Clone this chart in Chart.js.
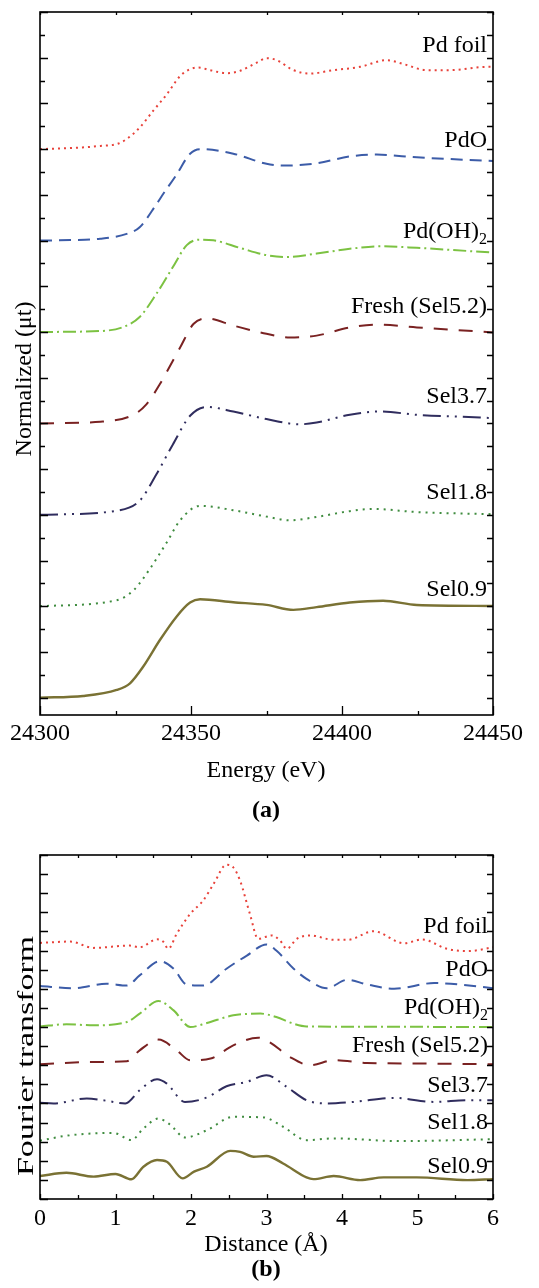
<!DOCTYPE html>
<html><head><meta charset="utf-8">
<script src="https://cdn.jsdelivr.net/npm/chart.js@4"></script>
<style>
html,body{margin:0;padding:0;background:#fff;}
.box{position:absolute;left:0;width:539px;}
</style></head><body>
<div style="position:relative;width:539px;height:1288px;">
<div class="box" style="top:0;height:840px"><canvas id="c1" width="539" height="840"></canvas></div>
<div class="box" style="top:840px;height:448px"><canvas id="c2" width="539" height="448"></canvas></div>
</div>
<script>
// ---------- shared series info ----------
const seriesNames = ['Pd foil','PdO','Pd(OH)2','Fresh (Sel5.2)','Sel3.7','Sel1.8','Sel0.9'];
const seriesColors = ['#e8423a','#3c5ca8','#7cc242','#7a2222','#302d5e','#3f8c3f','#7a7234'];
const seriesDashes = [[2,4],[12,7],[13,4,2,4],[14,11],[18,6,2,6,2,6],[2,5],[]];
const seriesWidths = [2,2,2,2,2,2,2.4];

// ---------- (a) XANES: energy (eV) / normalized mu, stacked with offsets ----------
const xanesOffsets = [6,5,4,3,2,1,0];
const foilE  = [24300,24314,24320,24325.4,24328.7,24333,24337.5,24342,24346.4,24349.7,24352.4,24356.3,24361.8,24366.2,24371.8,24375.1,24378.4,24383.9,24389.4,24397.1,24406,24414.8,24420.4,24428,24435.8,24448,24450];
const foilMu = [0,0.018,0.035,0.055,0.11,0.236,0.42,0.60,0.80,0.875,0.893,0.864,0.83,0.856,0.947,0.995,0.973,0.864,0.827,0.864,0.90,0.973,0.93,0.864,0.864,0.90,0.90];
const pdoE  = [24300,24310,24319.9,24328.7,24333,24338.6,24341,24345,24349.7,24353,24364,24375,24380.5,24391.6,24402.6,24411.5,24424.8,24450];
const pdoMu = [0,0.005,0.02,0.073,0.146,0.40,0.52,0.71,0.95,1.0,0.95,0.84,0.82,0.845,0.92,0.94,0.91,0.87];
const pdohE  = [24300,24319.9,24327.6,24333,24338.6,24344,24348.6,24353,24357.4,24366.2,24375,24381.7,24391.6,24402.6,24412.6,24424.8,24450];
const pdohMu = [0,0.01,0.055,0.164,0.42,0.71,0.95,1.01,1.003,0.92,0.84,0.82,0.857,0.91,0.937,0.92,0.868];
const freshE  = [24300,24320,24331,24335.3,24339.7,24344,24346.4,24350.8,24355.2,24364,24375,24382.8,24391.6,24402.6,24411.5,24424.8,24450];
const freshMu = [0,0.018,0.095,0.21,0.43,0.686,0.83,1.087,1.148,1.07,0.98,0.94,0.96,1.05,1.08,1.05,0.995];
const s37E  = [24300,24325.4,24333,24338.6,24344,24349.7,24355.2,24364,24375,24386,24391.6,24402.6,24412.6,24424.8,24445.7,24450];
const s37Mu = [0,0.044,0.153,0.445,0.77,1.083,1.18,1.13,1.047,0.99,1.01,1.094,1.13,1.094,1.064,1.057];
const s18E  = [24300,24325.4,24331,24336.4,24342,24346.4,24353,24364,24375,24382.8,24391.6,24402.6,24410.3,24424.8,24450];
const s18Mu = [0,0.066,0.175,0.41,0.70,0.94,1.098,1.05,0.98,0.94,0.977,1.04,1.064,1.03,1.006];
const s09E  = [24300,24314.3,24325.4,24329.8,24334.2,24339.7,24345.2,24349.7,24353,24364,24375,24383.9,24391.6,24402.6,24413.6,24424.8,24450];
const s09Mu = [0,0.018,0.084,0.157,0.34,0.63,0.886,1.04,1.076,1.043,1.014,0.96,0.99,1.04,1.06,1.014,1.003];
const energyTicks = [24300,24350,24400,24450];

// ---------- (b) Fourier transform: distance (A) / magnitude (stacked, as read) ----------
const foilR  = [0,0.4,0.71,1.19,1.32,1.55,1.63,1.70,1.81,1.99,2.16,2.30,2.47,2.56,2.65,2.78,2.89,3.07,3.18,3.27,3.40,3.58,3.89,4.07,4.42,4.82,5.06,5.39,5.67,6];
const foilFT = [13.40,13.47,13.14,13.26,13.17,13.59,13.47,13.09,13.87,14.92,15.61,16.49,17.49,17.35,16.66,14.92,13.61,13.79,13.52,13.09,13.61,13.79,13.56,13.56,14.01,13.38,13.58,13.09,12.97,13.17];
const pdoR  = [0,0.44,0.88,1.15,1.32,1.59,1.77,1.94,2.16,2.47,2.74,3.00,3.13,3.36,3.53,3.80,4.07,4.33,4.69,5.22,5.44,6];
const pdoFT = [11.14,11.03,11.26,11.17,11.70,12.44,12.05,11.23,11.17,12.05,12.74,13.32,13.0,12.05,11.52,11.03,11.47,11.23,11.00,11.30,11.26,11.03];
const pdohR  = [0,0.35,0.71,1.15,1.32,1.57,1.77,1.99,2.21,2.56,2.92,3.13,3.36,3.53,4.5,6];
const pdohFT = [9.03,9.14,9.09,9.26,9.70,10.36,9.87,9.0,9.21,9.61,9.70,9.52,9.17,9.03,9.01,9.0];
const freshR  = [0,0.71,1.15,1.32,1.57,1.81,1.99,2.26,2.56,2.89,3.04,3.31,3.58,3.89,4.33,4.99,6];
const freshFT = [7.05,7.17,7.21,7.78,8.34,7.78,7.26,7.35,8.04,8.44,8.21,7.43,7.0,7.26,7.12,7.09,7.05];
const s37R  = [0,0.18,0.62,0.88,1.13,1.32,1.55,1.68,1.92,2.21,2.47,2.74,3.00,3.27,3.53,3.78,4.15,4.69,5.22,5.66,6];
const s37FT = [5.03,5.0,5.26,5.14,5.0,5.69,6.27,6.04,5.08,5.31,5.90,6.13,6.48,5.86,5.17,5.0,5.08,5.29,5.08,5.17,5.17];
const s18R  = [0,0.35,0.97,1.21,1.37,1.57,1.72,1.92,2.21,2.56,2.96,3.22,3.53,3.89,4.77,6];
const s18FT = [3.05,3.31,3.46,3.08,3.69,4.21,3.9,3.22,3.60,4.30,4.27,3.78,3.08,3.17,3.03,3.13];
const s09R  = [0,0.35,0.71,1.0,1.21,1.37,1.55,1.68,1.89,2.04,2.21,2.52,2.65,2.83,3.00,3.22,3.53,3.62,3.89,4.24,4.55,4.99,5.66,6];
const s09FT = [1.20,1.37,1.17,1.31,1.03,1.69,2.04,1.95,1.08,1.43,1.69,2.52,2.47,2.21,2.25,1.86,1.13,1.04,1.20,0.99,1.13,1.13,0.99,1.04];
const distanceTicks = [0,1,2,3,4,5,6];

// ---------- helpers ----------
const FONT = '"Liberation Serif","Times New Roman",serif';
function pts(xs, ys, off){ return xs.map((v,i)=>({x:v, y:ys[i] + (off||0)})); }
function mkDatasets(list){
  return list.map((d,i)=>({
    label: seriesNames[i], data: d,
    borderColor: seriesColors[i], borderWidth: seriesWidths[i], borderDash: seriesDashes[i],
    borderCapStyle: 'butt', pointRadius: 0, fill: false, cubicInterpolationMode: 'monotone'
  }));
}
function near(v, step){ const r = v/step; return Math.abs(r - Math.round(r)) < 1e-6; }

function drawSeriesLabel(ctx, text, right, base){
  ctx.font = '24px ' + FONT;
  ctx.fillStyle = '#000';
  ctx.textBaseline = 'alphabetic';
  if (text === 'Pd(OH)2'){
    const main = 'Pd(OH)';
    ctx.font = '16px ' + FONT;
    const wSub = ctx.measureText('2').width;
    ctx.textAlign = 'right';
    ctx.fillText('2', right, base + 6);
    ctx.font = '24px ' + FONT;
    ctx.fillText(main, right - wSub, base);
  } else {
    ctx.textAlign = 'right';
    ctx.fillText(text, right, base);
  }
}

function makePlugin(cfg){
  return {
    id: 'decor',
    afterDatasetsDraw(chart){
      const ctx = chart.ctx, a = chart.chartArea, xs = chart.scales.x, ys = chart.scales.y;
      ctx.save();
      ctx.strokeStyle = '#000'; ctx.lineWidth = 1.6;
      ctx.strokeRect(a.left, a.top, a.right - a.left, a.bottom - a.top);
      ctx.lineWidth = 1.3;
      ctx.beginPath();
      // x ticks (inward)
      for (let v = cfg.xMin; v <= cfg.xMax + 1e-9; v += cfg.xMinor){
        const px = Math.round(xs.getPixelForValue(v)) + 0.5;
        const major = near(v - cfg.xMin, cfg.xMajor);
        const lb = major ? cfg.xBotMajor : cfg.xBotMinor;
        ctx.moveTo(px, a.bottom); ctx.lineTo(px, a.bottom - lb);
        ctx.moveTo(px, a.top); ctx.lineTo(px, a.top + cfg.xTop);
      }
      // y ticks (inward)
      for (let v = cfg.yTick0; v <= cfg.yMax + 1e-9; v += cfg.yMinor){
        const py = Math.round(ys.getPixelForValue(v)) + 0.5;
        const major = near(v - cfg.yTick0, cfg.yMajor);
        const ll = major ? cfg.yLeftMajor : cfg.yLeftMinor;
        ctx.moveTo(a.left, py); ctx.lineTo(a.left + ll, py);
        ctx.moveTo(a.right, py); ctx.lineTo(a.right - cfg.yRight, py);
      }
      ctx.stroke();
      // tick labels
      ctx.fillStyle = '#000';
      ctx.font = '24px ' + FONT;
      ctx.textBaseline = 'alphabetic';
      ctx.textAlign = 'center';
      cfg.xLabels.forEach(v => ctx.fillText(String(v), xs.getPixelForValue(v), cfg.xLabelBase));
      // x title
      ctx.fillText(cfg.xTitle, cfg.xTitleX, cfg.xTitleBase);
      // panel label
      ctx.font = 'bold 24px ' + FONT;
      ctx.fillText(cfg.panel, cfg.xTitleX, cfg.panelBase);
      // y title (rotated)
      ctx.font = '24px ' + FONT;
      ctx.save();
      ctx.translate(cfg.yTitleBaseX, cfg.yTitleCY);
      ctx.rotate(-Math.PI/2);
      const w = ctx.measureText(cfg.yTitle).width;
      const sx = cfg.yTitleLen ? cfg.yTitleLen / w : 1;
      ctx.scale(sx, 1);
      ctx.textAlign = 'center';
      ctx.fillText(cfg.yTitle, 0, 0);
      ctx.restore();
      // series labels
      seriesNames.forEach((n,i) => drawSeriesLabel(ctx, n, cfg.labelRight, cfg.labelBases[i]));
      ctx.restore();
    }
  };
}

// ---------- chart (a) ----------
new Chart(document.getElementById('c1'), {
  type: 'line',
  data: { datasets: mkDatasets([
    pts(foilE, foilMu, xanesOffsets[0]),
    pts(pdoE, pdoMu, xanesOffsets[1]),
    pts(pdohE, pdohMu, xanesOffsets[2]),
    pts(freshE, freshMu, xanesOffsets[3]),
    pts(s37E, s37Mu, xanesOffsets[4]),
    pts(s18E, s18Mu, xanesOffsets[5]),
    pts(s09E, s09Mu, xanesOffsets[6])
  ])},
  options: {
    responsive: false, animation: false, devicePixelRatio: 1,
    layout: { padding: { left: 40, right: 46, top: 12, bottom: 125 } },
    plugins: { legend: { display: false }, tooltip: { enabled: false } },
    scales: {
      x: { type: 'linear', min: 24300, max: 24450, display: false },
      y: { type: 'linear', min: -0.19, max: 7.5, display: false }
    }
  },
  plugins: [makePlugin({
    xMin: 24300, xMax: 24450, xMinor: 25, xMajor: 50, xBotMajor: 9, xBotMinor: 4, xTop: 3,
    yTick0: 0, yMax: 7.5, yMinor: 0.25, yMajor: 0.5, yLeftMajor: 8, yLeftMinor: 5, yRight: 6,
    xLabels: energyTicks, xLabelBase: 740, xTitle: 'Energy (eV)', xTitleX: 266, xTitleBase: 777,
    panel: '(a)', panelBase: 817,
    yTitle: 'Normalized (\u03bct)', yTitleBaseX: 31, yTitleCY: 379, yTitleLen: 0,
    labelRight: 487, labelBases: [51.7,146.7,238.3,313.3,403.3,499.3,596]
  })]
});

// ---------- chart (b) ----------
new Chart(document.getElementById('c2'), {
  type: 'line',
  data: { datasets: mkDatasets([
    pts(foilR, foilFT), pts(pdoR, pdoFT), pts(pdohR, pdohFT), pts(freshR, freshFT),
    pts(s37R, s37FT), pts(s18R, s18FT), pts(s09R, s09FT)
  ])},
  options: {
    responsive: false, animation: false, devicePixelRatio: 1,
    layout: { padding: { left: 40, right: 46, top: 15, bottom: 89 } },
    plugins: { legend: { display: false }, tooltip: { enabled: false } },
    scales: {
      x: { type: 'linear', min: 0, max: 6, display: false },
      y: { type: 'linear', min: 0, max: 18, display: false }
    }
  },
  plugins: [makePlugin({
    xMin: 0, xMax: 6, xMinor: 0.5, xMajor: 1, xBotMajor: 5, xBotMinor: 4, xTop: 3,
    yTick0: 0, yMax: 18, yMinor: 1, yMajor: 1, yLeftMajor: 8, yLeftMinor: 8, yRight: 6,
    xLabels: distanceTicks, xLabelBase: 385, xTitle: 'Distance (\u00c5)', xTitleX: 266, xTitleBase: 410.7,
    panel: '(b)', panelBase: 436,
    yTitle: 'Fourier transform', yTitleBaseX: 33, yTitleCY: 216, yTitleLen: 240,
    labelRight: 488, labelBases: [92.7,136,174.3,211.7,251.7,289,332.7]
  })]
});
</script>
</body></html>
